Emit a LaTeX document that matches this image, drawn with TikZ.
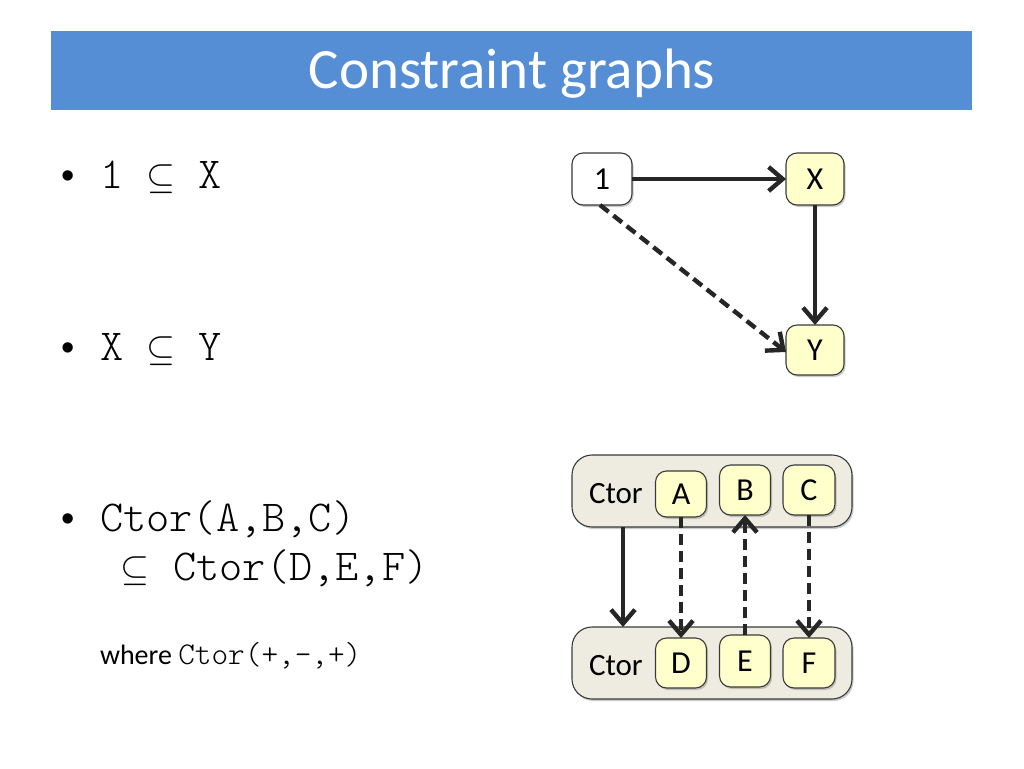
\documentclass[tikz,border=0pt]{standalone}
\usepackage{fontspec}
\setmainfont{Carlito}
\IfFontExistsTF{lmmonolt10-regular.otf}
  {\newfontfamily\courierlike{lmmonolt10-regular.otf}}
  {\newfontfamily\courierlike{Liberation Mono}}
\newfontfamily\bulletfont{Liberation Sans}
\usetikzlibrary{arrows.meta,shadows}
\definecolor{titleblue}{HTML}{558ED5}
\definecolor{nodeyellow}{HTML}{FFFFCC}
\definecolor{boxgray}{HTML}{EEECE1}
\definecolor{edgegray}{HTML}{3A3A3A}
\definecolor{arrowdark}{HTML}{262626}
\tikzset{
  every node/.style={inner sep=0pt, outer sep=0pt},
  shadowed/.style={drop shadow={shadow xshift=1.5pt, shadow yshift=-2pt, opacity=0.35, fill=black!60}},
  varnode/.style={draw=edgegray, line width=1.1pt, fill=nodeyellow, rounded corners=11pt, shadowed,
    font=\fontsize{32}{36}\selectfont},
  onenode/.style={varnode, fill=white},
  ctorbox/.style={draw=edgegray, line width=1.1pt, fill=boxgray, rounded corners=20pt, shadowed},
  ctorlabel/.style={font=\fontsize{31}{34}\selectfont, anchor=base west},
  conn/.style={draw=arrowdark, line width=4.4pt, -{Straight Barb[length=14pt,width=24pt,line width=4.4pt]}},
  dashconn/.style={conn, dash pattern=on 11pt off 6pt},
  bulletmark/.style={font=\bulletfont\fontsize{38}{44}\selectfont, anchor=base west},
  monotext/.style={font=\courierlike\fontsize{44.2}{50}\selectfont, anchor=base west},
}
\newcommand{\subeqbox}{\makebox[29pt]{\scalebox{1.5}{\fontsize{24.88}{28}\selectfont$\subseteq$}}}
\begin{document}
\begin{tikzpicture}[x=1pt,y=-1pt]
\useasboundingbox (0,0) rectangle (1024,768);
% title bar
\fill[titleblue] (51,31) rectangle (972,110);
\node[text=white, font=\fontsize{57}{64}\selectfont, anchor=base] (title) at (512,88) {Constraint graphs};
% bullets
\node[bulletmark] (b1) at (61,188) {\textbullet};
\node[monotext] (t1) at (100,188) {1 \subeqbox{} X};
\node[bulletmark] (b2) at (61,360) {\textbullet};
\node[monotext] (t2) at (100,360) {X \subeqbox{} Y};
\node[bulletmark] (b3) at (61,531) {\textbullet};
\node[monotext] (t3) at (100,531) {Ctor(A,B,C)};
\node[monotext] (t4) at (121,580) {\subeqbox{} Ctor(D,E,F)};
\node[anchor=base west, font=\fontsize{28}{32}\selectfont] (t5) at (100,664) {where {\courierlike\fontsize{31.7}{34}\selectfont Ctor(+,-,+)}};
% upper graph
\node[onenode, minimum width=60pt, minimum height=52pt] (n1) at (602,179) {1};
\node[varnode, minimum width=58pt, minimum height=52pt] (nX) at (815,179) {X};
\node[varnode, minimum width=58pt, minimum height=50pt] (nY) at (815,350) {Y};
\draw[conn] (n1.east) -- (nX.west);
\draw[conn] (nX.south) -- (nY.north);
\draw[dashconn] ([xshift=-2pt]n1.south) -- ([yshift=-2pt]nY.west);
% constructor boxes
\node[ctorbox, minimum width=280pt, minimum height=72pt] (top) at (712,491) {};
\node[ctorlabel] (ctop) at (589,503) {Ctor};
\node[varnode, minimum width=51pt, minimum height=46pt] (nA) at (681,494) {A};
\node[varnode, minimum width=51pt, minimum height=50pt] (nB) at (745,490) {B};
\node[varnode, minimum width=52pt, minimum height=50pt] (nC) at (809,490) {C};
\node[ctorbox, minimum width=280pt, minimum height=72pt] (bot) at (712,663) {};
\node[ctorlabel] (cbot) at (589,675) {Ctor};
\node[varnode, minimum width=51pt, minimum height=50pt] (nD) at (681,663) {D};
\node[varnode, minimum width=51pt, minimum height=52pt] (nE) at (745,661) {E};
\node[varnode, minimum width=52pt, minimum height=50pt] (nF) at (809,663) {F};
\coordinate (ts) at (623,527);
\coordinate (bs) at (623,627);
\draw[conn] (ts) -- (bs);
\draw[dashconn] (nA.south) -- (nD.north);
\draw[dashconn] (nE.north) -- (nB.south);
\draw[dashconn] (nC.south) -- (nF.north);
\end{tikzpicture}
\end{document}
